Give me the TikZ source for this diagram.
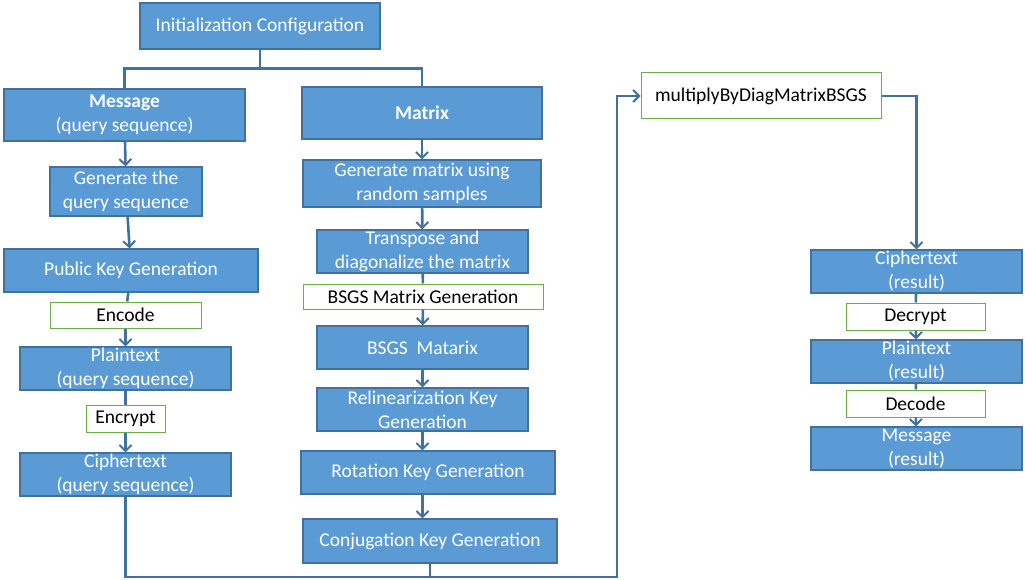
\documentclass[tikz,border=0pt]{standalone}
\usepackage{fontspec}
\setmainfont{Carlito}
\usepackage{xcolor}
\usetikzlibrary{arrows.meta}
\definecolor{boxblue}{RGB}{91, 155, 213}
\definecolor{edgeblue}{RGB}{65, 113, 156}
\definecolor{leafgreen}{RGB}{112, 173, 71}

\begin{document}
\begin{tikzpicture}[
  x=1pt, y=-1pt,
  every node/.style={font=\fontsize{19.5}{24}\selectfont, align=center, inner sep=0pt},
  stage/.style={rectangle, draw=edgeblue, line width=1.2pt, fill=boxblue, text=white},
  action/.style={rectangle, draw=leafgreen, line width=1pt, fill=white, text=black},
  link/.style={draw=edgeblue, line width=2.6pt},
  >={Straight Barb[length=6pt, width=12pt, line width=2pt]}
]
\useasboundingbox (0,0) rectangle (1025,580);

% top
\node[stage, minimum width=240, minimum height=46] (init) at (260,26) {Initialization Configuration};

% message column
\node[stage, minimum width=241, minimum height=52] (msg) at (124.5,115) {\textbf{Message}\\(query sequence)};
\node[stage, minimum width=152, minimum height=49] (genq) at (126,191.5) {Generate the\\query sequence};
\node[stage, minimum width=254, minimum height=43] (pubkey) at (131,270.5) {Public Key Generation};
\node[action, minimum width=151, minimum height=26] (encode) at (125.5,315) {Encode};
\node[stage, minimum width=211, minimum height=43] (plainq) at (125.5,368.5) {Plaintext\\(query sequence)};
\node[action, minimum width=79, minimum height=27] (encrypt) at (125.5,418.5) {Encrypt};
\node[stage, minimum width=211, minimum height=43] (cipherq) at (125.5,474.5) {Ciphertext\\(query sequence)};

% matrix column
\node[stage, minimum width=240, minimum height=52] (mat) at (422,113) {\textbf{Matrix}};
\node[stage, minimum width=238, minimum height=47] (genmat) at (422,183.5) {Generate matrix using\\random samples};
\node[stage, minimum width=211, minimum height=43] (transp) at (422.5,251.5) {Transpose and\\diagonalize the matrix};
\node[action, minimum width=240, minimum height=25] (bsgsgen) at (423,296.5) {BSGS Matrix Generation};
\node[stage, minimum width=211, minimum height=43] (bsgs) at (422.5,347.5) {BSGS\ \ Matarix};
\node[stage, minimum width=211, minimum height=43] (relin) at (422.5,409.5) {Relinearization Key\\Generation};
\node[stage, minimum width=254, minimum height=43] (rotkey) at (428,472.5) {Rotation Key Generation};
\node[stage, minimum width=254, minimum height=44] (conjkey) at (430,541) {Conjugation Key Generation};

% result column
\node[action, minimum width=240, minimum height=46] (mult) at (761,96) {multiplyByDiagMatrixBSGS};
\node[stage, minimum width=211, minimum height=43] (cipherr) at (916.5,271.5) {Ciphertext\\(result)};
\node[action, minimum width=139, minimum height=27] (decrypt) at (915.5,316.5) {Decrypt};
\node[stage, minimum width=211, minimum height=43] (plainr) at (916.5,361.5) {Plaintext\\(result)};
\node[action, minimum width=139, minimum height=27] (decode) at (915.5,403.5) {Decode};
\node[stage, minimum width=211, minimum height=43] (msgr) at (916.5,448.5) {Message\\(result)};

\coordinate (turn) at (617,577);

\draw[link] (init.south) -- ++(0,19) -| (msg.north);
\draw[link] (init.south) -- ++(0,19) -| (mat.north);

\draw[link, ->] (msg) -- (genq);
\draw[link, ->] (genq) -- (pubkey);
\draw[link] (pubkey) -- (encode);
\draw[link, ->] (encode) -- (plainq);
\draw[link] (plainq) -- (encrypt);
\draw[link, ->] (encrypt) -- (cipherq);

\draw[link, ->] (mat) -- (genmat);
\draw[link, ->] (genmat) -- (transp);
\draw[link] (transp) -- (bsgsgen);
\draw[link, ->] (bsgsgen) -- (bsgs);
\draw[link, ->] (bsgs) -- (relin);
\draw[link, ->] (relin.south) -- (relin.south |- rotkey.north);
\draw[link, ->] (rotkey.south -| relin.south) -- (relin.south |- conjkey.north);

\draw[link, ->] (cipherq.south) |- (turn) |- (mult.west);
\draw[link] (conjkey.south) -- (conjkey.south |- turn);
\draw[link, ->] (mult.east) -| (cipherr.north);

\draw[link] (cipherr) -- (decrypt);
\draw[link, ->] (decrypt) -- (plainr);
\draw[link] (plainr) -- (decode);
\draw[link, ->] (decode) -- (msgr);

\end{tikzpicture}
\end{document}
